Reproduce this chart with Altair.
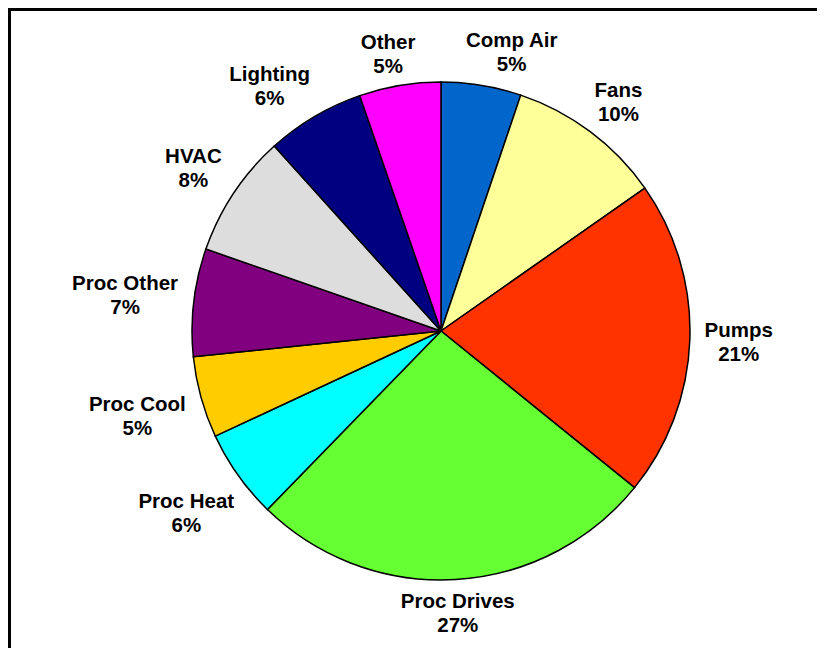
import math
import altair as alt
import pandas as pd

categories = ["Comp Air", "Fans", "Pumps", "Proc Drives", "Proc Heat",
              "Proc Cool", "Proc Other", "HVAC", "Lighting", "Other"]
shares = [5.2, 10.1, 20.6, 26.5, 5.8, 5.3, 7.0, 8.0, 6.4, 5.3]
pct_labels = ["5%", "10%", "21%", "27%", "6%", "5%", "7%", "8%", "6%", "5%"]
colors = ["#0066CC", "#FFFF99", "#FF3300", "#66FF33", "#00FFFF",
          "#FFCC00", "#800080", "#DDDDDD", "#000080", "#FF00FF"]

W, H = 809, 640
CX, CY = 433, 323
R = 249
RX, RY = 253, 246       # label ring follows the slightly wide original pie
FONT = 20.5
LINE_H = 24
GAP = 10
HH = 22                 # half height of a two-line label block
GX, GY = 50, 6          # minimum spacing between neighbouring labels

# Arial Bold advance widths (per 1000 em), used to keep labels clear of the pie
_aw = {" ": 278, "%": 889, "A": 722, "C": 722, "D": 722, "F": 611, "H": 722,
       "L": 611, "O": 778, "P": 667, "V": 667, "a": 556, "c": 556, "e": 556,
       "g": 611, "h": 611, "i": 278, "l": 278, "m": 889, "n": 611, "o": 611,
       "p": 611, "r": 389, "s": 556, "t": 333, "u": 611, "v": 556}


def text_w(s):
    return sum(_aw.get(ch, 556) for ch in s) / 1000 * FONT


total = sum(shares)
n = len(categories)
hws = [max(text_w(c), text_w(p)) / 2 for c, p in zip(categories, pct_labels)]

angles = []
cum = 0.0
for v in shares:
    angles.append((cum + v / 2) / total * 2 * math.pi)
    cum += v


def lab_radius(a, hw):
    s, c = math.sin(a), math.cos(a)
    re = math.hypot(RX * s, RY * c)
    return re + GAP + hw * abs(s) + HH * abs(c)


def lab_center(i):
    a = angles[i]
    r = lab_radius(a, hws[i])
    return CX + r * math.sin(a), CY - r * math.cos(a)


# simple repel: push neighbouring labels apart along the ring
step = 0.002
for _ in range(2000):
    moved = False
    for i in range(n):
        j = (i + 1) % n
        xi, yi = lab_center(i)
        xj, yj = lab_center(j)
        if abs(xi - xj) < hws[i] + hws[j] + GX and abs(yi - yj) < 2 * HH + GY:
            angles[i] -= step
            angles[j] += step
            moved = True
    if not moved:
        break

label_r = [lab_radius(angles[i], hws[i]) for i in range(n)]
label_pos = [(a % (2 * math.pi)) / (2 * math.pi) * total for a in angles]

df = pd.DataFrame({
    "idx": list(range(n)),
    "category": categories,
    "share": shares,
    "label": [c + "\n" + p for c, p in zip(categories, pct_labels)],
    "lr": label_r,
    "lpos": label_pos,
})

theta_scale = alt.Scale(domain=[0, total], range=[0, 2 * math.pi])

base = alt.Chart(df).transform_window(
    end="sum(share)", sort=[alt.SortField("idx")], frame=[None, 0]
).transform_calculate(
    start="datum.end - datum.share",
)

pie = base.mark_arc(stroke="black", strokeWidth=1.5, radius=R).encode(
    theta=alt.Theta("start:Q", scale=theta_scale, stack=None),
    theta2="end:Q",
    color=alt.Color("category:N",
                    scale=alt.Scale(domain=categories, range=colors),
                    legend=None),
    x=alt.value(CX),
    y=alt.value(CY),
)

labels = base.mark_text(
    font="Liberation Sans", fontWeight="bold", fontSize=FONT,
    lineBreak="\n", lineHeight=LINE_H, align="center", baseline="middle",
    color="black", dy=-10,
).encode(
    theta=alt.Theta("lpos:Q", scale=theta_scale, stack=None),
    radius=alt.Radius("lr:Q", scale=None, stack=None),
    text="label:N",
    x=alt.value(CX),
    y=alt.value(CY),
)

frame_top = alt.Chart(df).mark_rule(color="black", strokeWidth=3).encode(
    x=alt.value(0), x2=alt.value(W), y=alt.value(1.5))
frame_left = alt.Chart(df).mark_rule(color="black", strokeWidth=3).encode(
    x=alt.value(1.5), y=alt.value(0), y2=alt.value(H))

chart = alt.layer(pie, labels, frame_top, frame_left).properties(
    width=W, height=H, padding=0, autosize=alt.AutoSizeParams(type="none"),
    background="white",
).configure_view(stroke=None)

chart.save("out.html", embed_options={"renderer": "svg", "actions": False})
